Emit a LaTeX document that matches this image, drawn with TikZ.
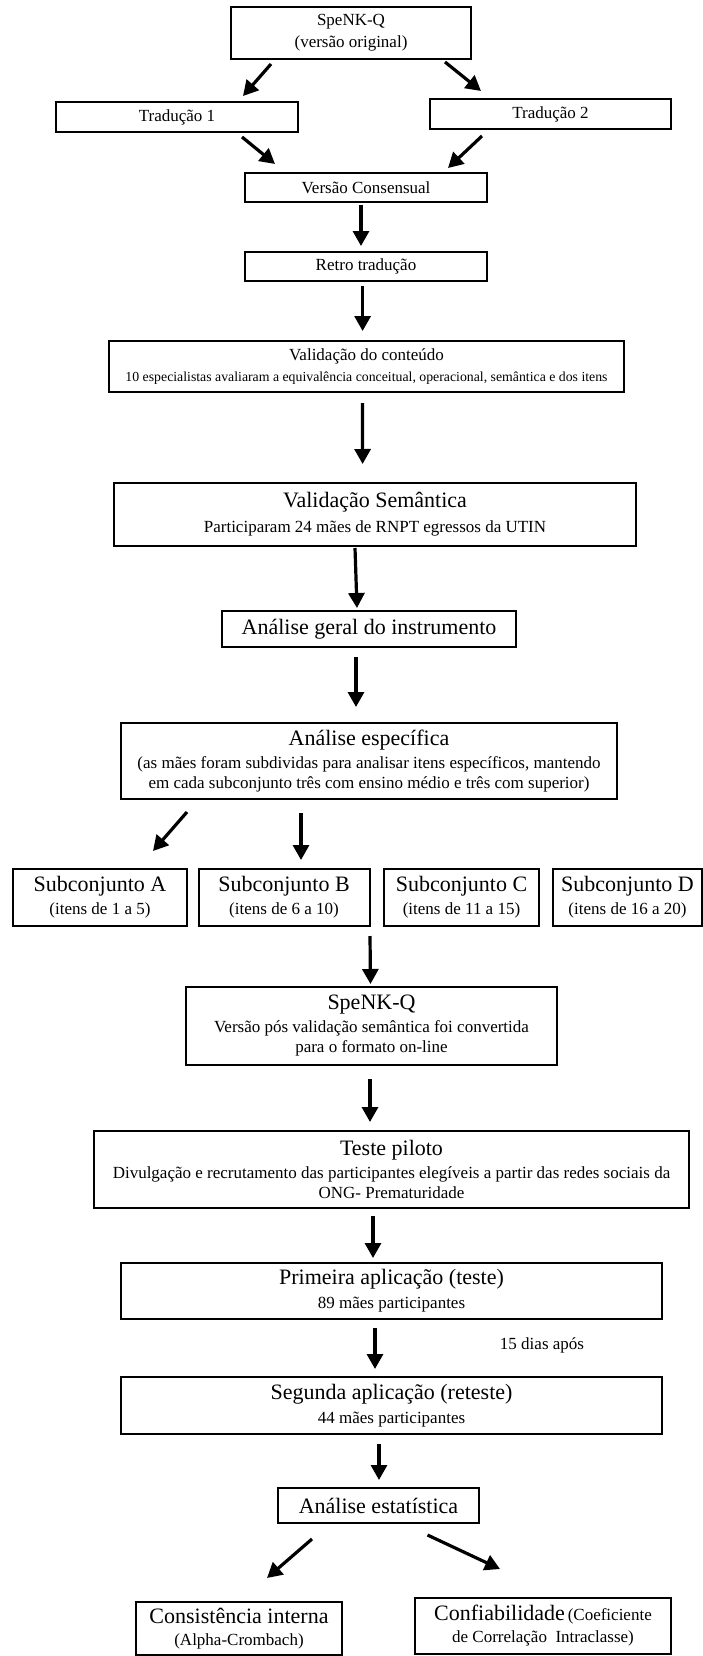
\documentclass[tikz,border=0pt]{standalone}
\usepackage{fontspec}
\setmainfont{Liberation Serif}
\usetikzlibrary{arrows.meta}

\newcommand{\titulo}{\fontsize{22}{24}\selectfont}
\newcommand{\corpo}{\fontsize{17}{20}\selectfont}
\newcommand{\miudo}{\fontsize{13.8}{16}\selectfont}

\tikzset{
	caixa/.style={draw, line width=2pt, inner sep=0pt, align=center, font=\corpo},
	seta/.style={line width=3.2pt, -{Triangle[length=15pt,width=16pt]}}
}

\begin{document}
\begin{tikzpicture}[x=1pt, y=-1pt]
%	\draw[help lines] (0,0) grid (702,1656);
	\useasboundingbox (0,0) rectangle (702,1656);

	%traducao
	\node[caixa, minimum width=240pt, minimum height=52pt] (orig) at (351,33) {SpeNK-Q\\[2pt](versão original)};
	\node[caixa, minimum width=242pt, minimum height=30pt] (trad1) at (177,117) {Tradução 1};
	\node[caixa, minimum width=241pt, minimum height=30pt] (trad2) at (550.5,114) {Tradução 2};
	\node[caixa, minimum width=242pt, minimum height=29pt] (consenso) at (366,187.5) {Versão Consensual};
	\node[caixa, minimum width=242pt, minimum height=29pt] (retro) at (366,266.5) {Retro tradução};

	\draw[seta] ([xshift=-80pt,yshift=-4pt]orig.south) -- ([xshift=66pt,yshift=5pt]trad1.north);
	\draw[seta] ([xshift=94pt,yshift=-2pt]orig.south) -- ([xshift=-69.5pt,yshift=7pt]trad2.north);
	\draw[seta] ([xshift=65pt,yshift=-4pt]trad1.south) -- ([xshift=-91pt,yshift=8pt]consenso.north);
	\draw[seta] ([xshift=-68.5pt,yshift=-6pt]trad2.south) -- ([xshift=82pt,yshift=4pt]consenso.north);
	\draw[seta] ([xshift=-5pt,yshift=-2pt]consenso.south) -- ([xshift=-5pt,yshift=5pt]retro.north);

	%validacao
	\node[caixa, minimum width=515pt, minimum height=51pt] (conteudo) at (366.5,366.5) {Validação do conteúdo\\[1pt]{\miudo 10 especialistas avaliaram a equivalência conceitual, operacional, semântica e dos itens}};
	\node[caixa, minimum width=522pt, minimum height=63pt] (semantica) at (375,514.5) {{\titulo Validação Semântica}\\[5pt]Participaram 24 mães de RNPT egressos da UTIN};
	\node[caixa, minimum width=294pt, minimum height=36pt] (geral) at (369,629) {\titulo Análise geral do instrumento};
	\node[caixa, minimum width=496pt, minimum height=76pt] (especifica) at (369,761) {{\titulo Análise específica}\\[3pt](as mães foram subdividas para analisar itens específicos, mantendo\\em cada subconjunto três com ensino médio e três com superior)};

	\draw[seta] ([xshift=-3.4pt,yshift=-4pt]retro.south) -- ([xshift=-3.9pt,yshift=9pt]conteudo.north);
	\draw[seta] ([xshift=-4pt,yshift=-10pt]conteudo.south) -- ([xshift=-12.4pt,yshift=18pt]semantica.north);
	\draw[seta] ([xshift=-20pt,yshift=-1pt]semantica.south) -- ([xshift=-12pt,yshift=2pt]geral.north);
	\draw[seta] ([xshift=-13pt,yshift=-9pt]geral.south) -- ([xshift=-13pt,yshift=15pt]especifica.north);

	%subconjuntos
	\node[caixa, minimum width=174pt, minimum height=57pt] (subA) at (100,897.5) {{\titulo Subconjunto A}\\[3pt](itens de 1 a 5)};
	\node[caixa, minimum width=171pt, minimum height=57pt] (subB) at (284,897.5) {{\titulo Subconjunto B}\\[3pt](itens de 6 a 10)};
	\node[caixa, minimum width=155pt, minimum height=57pt] (subC) at (461.5,897.5) {{\titulo Subconjunto C}\\[3pt](itens de 11 a 15)};
	\node[caixa, minimum width=149pt, minimum height=57pt] (subD) at (627.5,897.5) {{\titulo Subconjunto D}\\[3pt](itens de 16 a 20)};

	\draw[seta] ([xshift=-182pt,yshift=-12pt]especifica.south) -- ([xshift=53pt,yshift=17pt]subA.north);
	\draw[seta] ([xshift=-68pt,yshift=-13pt]especifica.south) -- ([xshift=17pt,yshift=8pt]subB.north);

	%aplicacao
	\node[caixa, minimum width=371pt, minimum height=78pt] (online) at (371.5,1026) {{\titulo SpeNK-Q}\\[3pt]Versão pós validação semântica foi convertida\\para o formato on-line};
	\node[caixa, minimum width=595pt, minimum height=77pt] (piloto) at (391.5,1169.5) {{\titulo Teste piloto}\\[3pt]Divulgação e recrutamento das participantes elegíveis a partir das redes sociais da\\ONG- Prematuridade};
	\node[caixa, minimum width=541pt, minimum height=56pt] (teste) at (391.5,1291) {{\titulo Primeira aplicação (teste)}\\[4pt]89 mães participantes};
	\node[caixa, minimum width=541pt, minimum height=57pt] (reteste) at (391.5,1405.5) {{\titulo Segunda aplicação (reteste)}\\[4pt]44 mães participantes};
	\node[font=\corpo] (dias) at (542,1345) {15 dias após};

	\draw[seta] ([xshift=86pt,yshift=-9pt]subB.south) -- ([xshift=-1pt,yshift=2pt]online.north);
	\draw[seta] ([xshift=-1.5pt,yshift=-13pt]online.south) -- ([xshift=-21.5pt,yshift=8pt]piloto.north);
	\draw[seta] ([xshift=-18.5pt,yshift=-7pt]piloto.south) -- ([xshift=-18.5pt,yshift=4pt]teste.north);
	\draw[seta] ([xshift=-16.5pt,yshift=-8pt]teste.south) -- ([xshift=-16.5pt,yshift=7pt]reteste.north);

	%analise
	\node[caixa, minimum width=201pt, minimum height=35pt] (estat) at (378.5,1505.5) {\titulo Análise estatística};
	\node[caixa, minimum width=206pt, minimum height=53pt] (consist) at (239,1628.5) {{\titulo Consistência interna}\\[2pt](Alpha-Crombach)};
	\node[caixa, minimum width=256pt, minimum height=56pt] (confiab) at (543,1626) {{\titulo Confiabilidade}\,(Coeficiente\\[2pt]de Correlação\ \ Intraclasse)};

	\draw[seta] ([xshift=-12.5pt,yshift=-9pt]reteste.south) -- ([xshift=0.5pt,yshift=7pt]estat.north);
	\draw[seta] ([xshift=-66.5pt,yshift=-15pt]estat.south) -- ([xshift=28pt,yshift=23pt]consist.north);
	\draw[seta] ([xshift=49pt,yshift=-11pt]estat.south) -- ([xshift=-43pt,yshift=28pt]confiab.north);

\end{tikzpicture}
\end{document}
